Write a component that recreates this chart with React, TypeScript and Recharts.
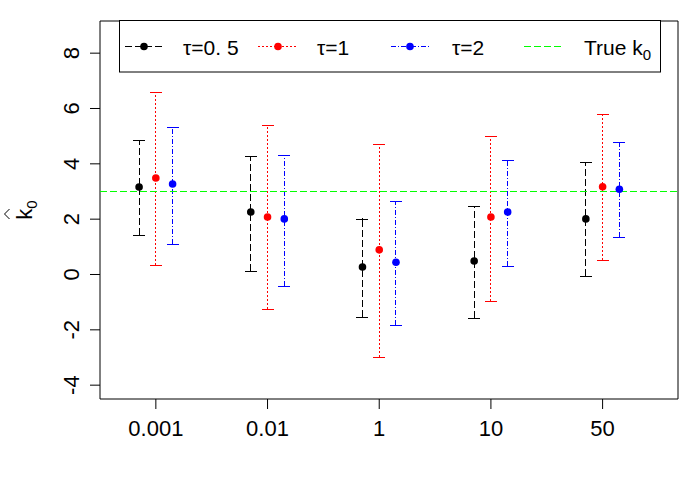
import React from 'react'
import {
    ComposedChart,
    Scatter,
    ErrorBar,
    XAxis,
    YAxis,
    ReferenceLine,
    ReferenceArea,
} from 'recharts'

// values
const categories = ['0.001', '0.01', '1', '10', '50']
const yTicks = [-4, -2, 0, 2, 4, 6, 8]
const trueK0 = 3

const tau05Mean = [3.16, 2.26, 0.27, 0.49, 2.01]
const tau05Upper = [4.87, 4.3, 2.02, 2.49, 4.06]
const tau05Lower = [1.41, 0.14, -1.52, -1.59, -0.06]

const tau1Mean = [3.49, 2.08, 0.89, 2.08, 3.17]
const tau1Upper = [6.61, 5.42, 4.73, 5.02, 5.8]
const tau1Lower = [0.36, -1.26, -3.0, -0.94, 0.54]

const tau2Mean = [3.27, 2.01, 0.44, 2.26, 3.08]
const tau2Upper = [5.34, 4.33, 2.67, 4.15, 4.78]
const tau2Lower = [1.12, -0.4, -1.81, 0.32, 1.34]

const FONT = '"Liberation Sans", Arial, sans-serif'
const X_DOMAIN: [number, number] = [0.5, 5.675]
const Y_DOMAIN: [number, number] = [-4.5, 9.1624]

const series = [
    { name: 'τ=0. 5', color: '#000000', dash: '7 3', shift: -0.15, mean: tau05Mean, lower: tau05Lower, upper: tau05Upper },
    { name: 'τ=1', color: '#FF0000', dash: '2 2', shift: 0, mean: tau1Mean, lower: tau1Lower, upper: tau1Upper },
    { name: 'τ=2', color: '#0000FF', dash: '5 2 1 2', shift: 0.15, mean: tau2Mean, lower: tau2Lower, upper: tau2Upper },
]

const buildRows = (s: typeof series[number]) =>
    s.mean.map((m, i) => ({
        x: i + 1 + s.shift,
        y: m,
        err: [m - s.lower[i], s.upper[i] - m],
    }))

// the end caps of each interval, drawn solid like R's arrows() heads
const buildCaps = (s: typeof series[number]) =>
    s.mean.flatMap((_, i) => [
        { x: i + 1 + s.shift, y: s.upper[i] },
        { x: i + 1 + s.shift, y: s.lower[i] },
    ])

const Dot = (color: string) => (props: any) => {
    const { cx, cy } = props
    if (cx == null || cy == null) return null
    return <circle cx={cx} cy={cy} r={3.8} fill={color} />
}

const Cap = (color: string) => (props: any) => {
    const { cx, cy } = props
    if (cx == null || cy == null) return null
    const yy = Math.round(cy) + 0.5
    return <line x1={cx - 6} x2={cx + 6} y1={yy} y2={yy} stroke={color} strokeWidth={1} shapeRendering="crispEdges" />
}

const YTick = (props: any) => {
    const { y, payload } = props
    return (
        <text
            transform={`translate(79, ${y}) rotate(-90)`}
            textAnchor="middle"
            fontSize={22}
            fontFamily={FONT}
            fill="#000"
        >
            {payload.value}
        </text>
    )
}

function LegendBox() {
    const entries = [
        { label: series[0].name, color: series[0].color, dash: series[0].dash, x0: 125, x1: 163, dot: 144, tx: 183 },
        { label: series[1].name, color: series[1].color, dash: series[1].dash, x0: 258, x1: 296, dot: 278, tx: 317 },
        { label: series[2].name, color: series[2].color, dash: series[2].dash, x0: 391, x1: 431, dot: 410, tx: 452 },
    ]
    return (
        <svg width={700} height={100} style={{ position: 'absolute', left: 0, top: 0, pointerEvents: 'none' }}>
            <rect x={119.5} y={20.5} width={541} height={51.5} fill="#fff" stroke="#000" strokeWidth={1} />
            {entries.map((e) => (
                <g key={e.label}>
                    <line x1={e.x0} x2={e.x1} y1={46.5} y2={46.5} stroke={e.color} strokeDasharray={e.dash} />
                    <circle cx={e.dot} cy={46.5} r={3.8} fill={e.color} />
                    <text x={e.tx} y={55} fontSize={21} fontFamily={FONT} fill="#000">
                        {e.label}
                    </text>
                </g>
            ))}
            <line x1={524} x2={562} y1={46.5} y2={46.5} stroke="#00FF00" strokeDasharray="7 3" />
            <text x={584} y={55} fontSize={21} fontFamily={FONT} fill="#000">
                True k
                <tspan fontSize={15} dy={5}>0</tspan>
            </text>
        </svg>
    )
}

export default function App() {
    return (
        <div style={{ position: 'absolute', left: 0, top: 0, width: 700, height: 500, background: '#fff' }}>
            <ComposedChart
                width={700}
                height={500}
                margin={{ top: 21, right: 22, left: 40, bottom: 51 }}
            >
                <XAxis
                    type="number"
                    dataKey="x"
                    domain={X_DOMAIN}
                    allowDataOverflow
                    ticks={[1, 2, 3, 4, 5]}
                    tickFormatter={(v: number) => categories[v - 1]}
                    axisLine={false}
                    tickLine={{ stroke: '#000' }}
                    tickSize={10}
                    tickMargin={11}
                    height={50}
                    tick={{ fontSize: 22, fill: '#000', fontFamily: FONT }}
                />
                <YAxis
                    type="number"
                    dataKey="y"
                    domain={Y_DOMAIN}
                    allowDataOverflow
                    ticks={yTicks}
                    axisLine={false}
                    tickLine={{ stroke: '#000' }}
                    tickSize={10}
                    width={60}
                    tick={<YTick />}
                    label={{
                        content: () => (
                            <g>
                                <polyline points="9.5,209 4.5,214 9.5,219" fill="none" stroke="#000" strokeWidth={1} />
                                <text
                                    transform="translate(32, 210) rotate(-90)"
                                    textAnchor="middle"
                                    fontSize={22}
                                    fontFamily={FONT}
                                    fill="#000"
                                >
                                    k
                                    <tspan fontSize={15} dy={5}>0</tspan>
                                </text>
                            </g>
                        ),
                    }}
                />
                <ReferenceArea
                    x1={X_DOMAIN[0]}
                    x2={X_DOMAIN[1]}
                    y1={Y_DOMAIN[0]}
                    y2={Y_DOMAIN[1]}
                    fill="none"
                    stroke="#000"
                    strokeWidth={1}
                    ifOverflow="visible"
                />
                {series.map((s) => (
                    <Scatter
                        key={s.name}
                        name={s.name}
                        data={buildRows(s)}
                        fill={s.color}
                        shape={Dot(s.color)}
                        isAnimationActive={false}
                    >
                        <ErrorBar
                            dataKey="err"
                            direction="y"
                            width={0}
                            stroke={s.color}
                            strokeWidth={1}
                            strokeDasharray={s.dash}
                            shapeRendering="crispEdges"
                            isAnimationActive={false}
                        />
                    </Scatter>
                ))}
                {series.map((s) => (
                    <Scatter
                        key={`${s.name}-caps`}
                        data={buildCaps(s)}
                        fill={s.color}
                        shape={Cap(s.color)}
                        legendType="none"
                        isAnimationActive={false}
                    />
                ))}
                <ReferenceLine
                    y={trueK0}
                    stroke="#00FF00"
                    strokeDasharray="7 3"
                    strokeWidth={1}
                    ifOverflow="visible"
                />
            </ComposedChart>
            <LegendBox />
        </div>
    )
}
